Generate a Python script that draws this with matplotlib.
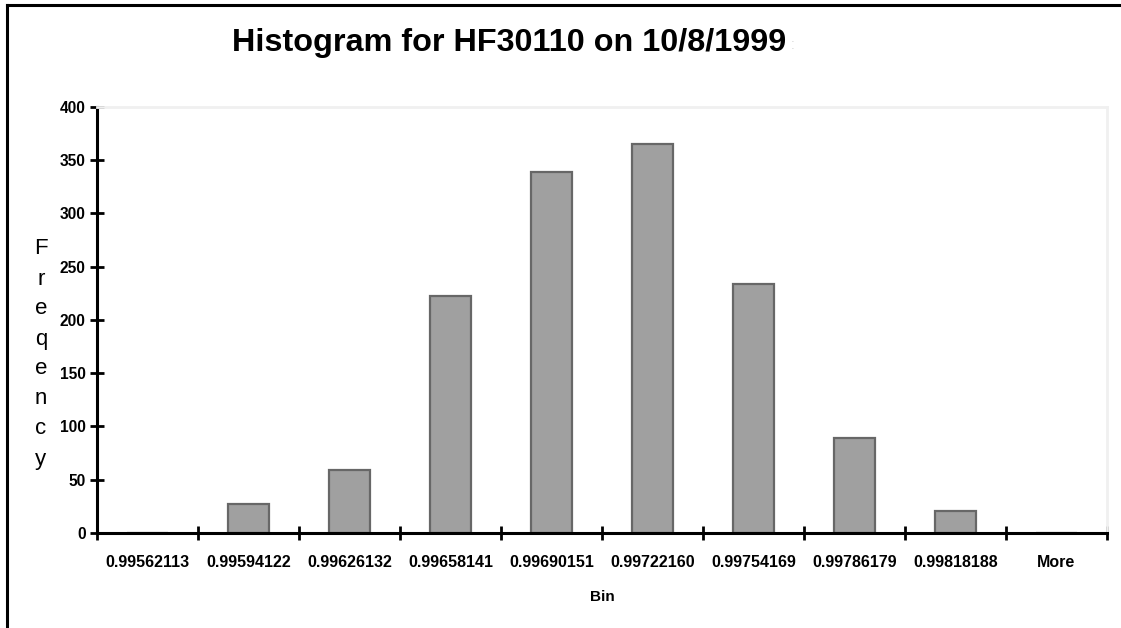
import numpy as np
import matplotlib.pyplot as plt
from matplotlib.ticker import FixedLocator, NullFormatter, FixedFormatter

plt.rcParams['font.family'] = ['Liberation Sans', 'DejaVu Sans']

# bin upper edges and counts
bins = ["0.99562113", "0.99594122", "0.99626132", "0.99658141", "0.99690151",
        "0.99722160", "0.99754169", "0.99786179", "0.99818188", "More"]
counts = [0, 27, 59, 222, 339, 365, 234, 89, 21, 0]
yticks = [0, 50, 100, 150, 200, 250, 300, 350, 400]

fig = plt.figure(figsize=(11.21, 6.28), dpi=100)
ax = fig.add_axes([0.0865, 0.1513, 0.901, 0.6787])

x = np.arange(len(bins))
ax.bar(x, counts, width=0.41, color='#a0a0a0', edgecolor='#676767', linewidth=1.6)

ax.set_xlim(-0.5, len(bins) - 0.5)
ax.set_ylim(0, 400)

# ticks sit on the bin boundaries, labels in the middle of each bin
ax.xaxis.set_major_locator(FixedLocator(np.arange(len(bins) + 1) - 0.5))
ax.xaxis.set_major_formatter(NullFormatter())
ax.xaxis.set_minor_locator(FixedLocator(x))
ax.xaxis.set_minor_formatter(FixedFormatter(bins))
ax.tick_params(axis='x', which='major', direction='inout', length=10, width=2, color='black')
ax.tick_params(axis='x', which='minor', length=0, pad=16, labelsize=11.5)
for lbl in ax.get_xticklabels(minor=True):
    lbl.set_fontweight('bold')

ax.set_yticks(yticks)
ax.tick_params(axis='y', direction='inout', length=10, width=2, pad=3, labelsize=11.2)
for lbl in ax.get_yticklabels():
    lbl.set_fontweight('bold')

for side in ['left', 'bottom']:
    ax.spines[side].set_linewidth(2.2)
    ax.spines[side].set_color('black')
for side in ['top', 'right']:
    ax.spines[side].set_linewidth(2)
    ax.spines[side].set_color('#f0f0f0')

ax.set_xlabel("Bin", fontsize=11, fontweight='bold', labelpad=14)

fig.text(0.454, 0.932, "Histogram for HF30110 on 10/8/1999", ha='center', va='center',
         fontsize=23.3, fontweight='bold')
fig.text(0.7075, 0.928, ":", ha='center', va='center', fontsize=10, color='#d8d8d8')

# vertical, one letter per line y label
label = "Freqency"
for i, ch in enumerate(label):
    fig.text(0.0365, 1 - (249 + i * 30) / 628, ch, ha='center', va='center', fontsize=16)

# outline at the left and top of the figure
fig.add_artist(plt.Line2D([7 / 1121, 7 / 1121], [0, 1 - 5 / 628], transform=fig.transFigure,
                          color='black', linewidth=2.2))
fig.add_artist(plt.Line2D([7 / 1121, 1], [1 - 5 / 628, 1 - 5 / 628], transform=fig.transFigure,
                          color='black', linewidth=2.2))

fig.savefig("out.png", dpi=100)
